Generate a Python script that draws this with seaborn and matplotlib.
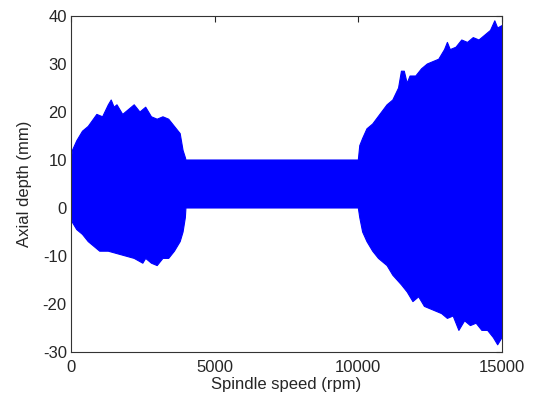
import numpy as np
import pandas as pd
import matplotlib
matplotlib.use("Agg")
import matplotlib.pyplot as plt
import seaborn as sns

# Upper envelope of the stability lobes (rpm, mm)
upper_rpm = [0, 50, 200, 400, 600, 900, 1100, 1300, 1400, 1500, 1600, 1800, 2000, 2200,
             2400, 2600, 2800, 3000, 3200, 3400, 3600, 3800, 3900, 3980, 4000,
             10000, 10050, 10150, 10300, 10500, 10750, 11000, 11200, 11400, 11500, 11600,
             11700, 11800, 12000, 12200, 12400, 12600, 12800, 13000, 13100, 13200, 13400,
             13600, 13800, 14000, 14200, 14400, 14600, 14750, 14850, 15000]
upper_depth = [9, 12, 14, 16, 17, 19.5, 19, 21.5, 22.5, 21, 21.5, 19.5, 20.5, 21.5,
               20, 21, 19, 18.5, 19, 18.5, 17, 15.5, 12, 10.5, 10,
               10, 13, 14.5, 16.5, 17.5, 19.5, 21.5, 22.5, 25, 28.5, 28.5,
               26, 27.5, 27.5, 29, 30, 30.5, 31, 33, 34.5, 33, 33.5,
               35, 34.5, 35.5, 35, 36, 37, 39, 37.5, 38]

# Lower envelope (rpm, mm)
lower_rpm = [0, 50, 200, 400, 600, 800, 1000, 1300, 1600, 1900, 2200, 2500, 2600, 2800,
             3000, 3200, 3400, 3600, 3800, 3900, 3980, 4000,
             10000, 10050, 10150, 10300, 10500, 10700, 11000, 11200, 11500, 11700, 11900,
             12100, 12300, 12500, 12700, 12900, 13100, 13300, 13500, 13700, 13900, 14100,
             14300, 14500, 14700, 14850, 15000]
lower_depth = [-1, -3, -4.5, -5.5, -7, -8, -9, -9, -9.5, -10, -10.5, -11.5, -10.5, -11.5,
               -12, -10.5, -10.5, -9, -7, -5, -2, 0,
               0, -2, -5, -7, -9, -10.5, -12, -14, -16, -17.5, -19.5,
               -18.5, -20.5, -21, -21.5, -22, -23, -22.5, -25.5, -23.5, -24.5, -24,
               -25.5, -25.5, -27, -28.5, -27]

xticks = [0, 5000, 10000, 15000]
yticks = [-30, -20, -10, 0, 10, 20, 30, 40]

sns.set_style("white")
plt.rcParams['font.family'] = ['Liberation Sans', 'DejaVu Sans']

fig = plt.figure(figsize=(5.33, 3.98), dpi=100)
ax = fig.add_axes([71/533, 1-352/398, (502-71)/533, (352-16)/398])

blue = "#0000FF"
poly_x = list(upper_rpm) + list(lower_rpm[::-1])
poly_y = list(upper_depth) + list(lower_depth[::-1])
ax.fill(poly_x, poly_y, color=blue, lw=0)

up = pd.DataFrame({"rpm": upper_rpm, "depth": upper_depth})
lo = pd.DataFrame({"rpm": lower_rpm, "depth": lower_depth})
sns.lineplot(data=up, x="rpm", y="depth", sort=False, estimator=None, color=blue, lw=0.8, ax=ax)
sns.lineplot(data=lo, x="rpm", y="depth", sort=False, estimator=None, color=blue, lw=0.8, ax=ax)

ax.set_xlim(0, 15000)
ax.set_ylim(-30, 40)
ax.set_xticks(xticks)
ax.set_yticks(yticks)
ax.set_xticklabels([str(t) for t in xticks], fontsize=12)
ax.set_yticklabels([str(t) for t in yticks], fontsize=12)
ax.tick_params(direction="in", length=4, width=0.8, top=True, right=True)
ax.tick_params(axis="x", pad=6)
ax.tick_params(axis="y", pad=3)
for s in ax.spines.values():
    s.set_color("#333333")
    s.set_linewidth(0.8)
ax.set_xlabel("Spindle speed (rpm)", fontsize=12, labelpad=1)
ax.set_ylabel("Axial depth (mm)", fontsize=12, labelpad=8)

fig.savefig("out.png", dpi=100)
